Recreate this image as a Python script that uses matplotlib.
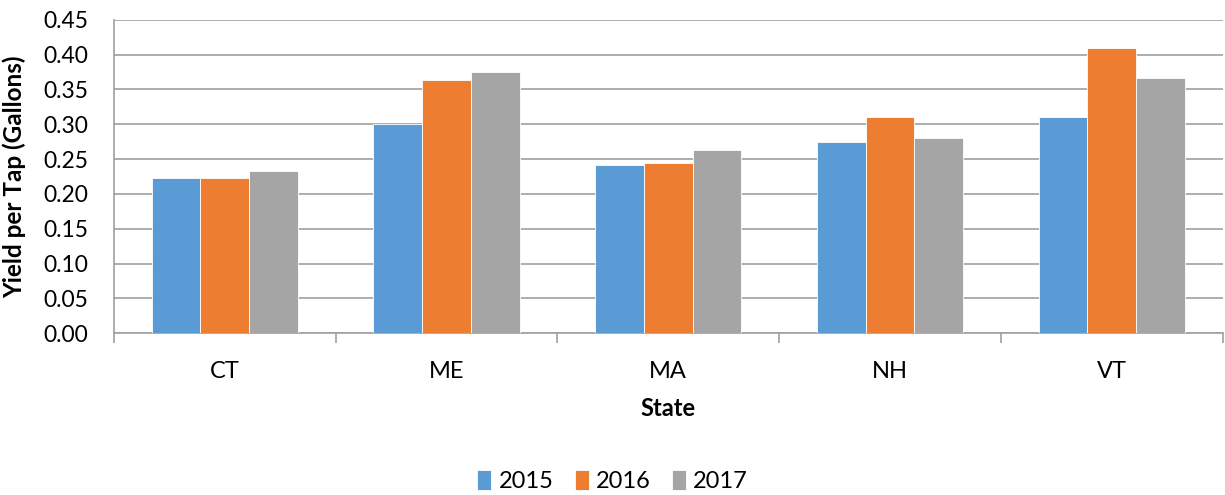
import matplotlib.pyplot as plt
import numpy as np

states = ["CT", "ME", "MA", "NH", "VT"]
years = ["2015", "2016", "2017"]
yield_2015 = [0.223, 0.300, 0.242, 0.275, 0.310]
yield_2016 = [0.223, 0.363, 0.244, 0.310, 0.410]
yield_2017 = [0.233, 0.375, 0.263, 0.280, 0.366]
colors = ["#5B9BD5", "#ED7D31", "#A5A5A5"]

plt.rcParams['font.family'] = ['Lato', 'DejaVu Sans']

fig = plt.figure(figsize=(12.25, 4.95), dpi=100)
ax = fig.add_axes([0.093, 0.327, 0.905, 0.633])

x = np.arange(len(states))
w = 0.22
for i, (vals, lab) in enumerate(zip([yield_2015, yield_2016, yield_2017], years)):
    ax.bar(x + (i - 1) * w, vals, w, color=colors[i], label=lab,
           edgecolor="white", linewidth=0.6, zorder=3)

ax.set_xlim(-0.5, len(states) - 0.5)
ax.set_ylim(0, 0.45)
ax.set_yticks(np.arange(0, 0.451, 0.05))
ax.set_yticklabels([f"{v:.2f}" for v in np.arange(0, 0.451, 0.05)], fontsize=16.5)
ax.yaxis.grid(True, color="#A0A0A0", linewidth=1.2, zorder=0)
ax.tick_params(axis="y", length=0, pad=18.5)

# category ticks sit at the group boundaries
ax.set_xticks(np.arange(-0.5, len(states), 1.0))
ax.set_xticklabels([])
ax.set_xticks(x, minor=True)
ax.set_xticklabels(states, minor=True, fontsize=17)
ax.tick_params(axis="x", which="major", length=7, color="#A0A0A0", width=1.2)
ax.tick_params(axis="x", which="minor", length=0, pad=20)

for s in ["top", "right"]:
    ax.spines[s].set_visible(False)
for s in ["left", "bottom"]:
    ax.spines[s].set_color("#A0A0A0")
    ax.spines[s].set_linewidth(1.2)

ax.set_ylabel("Yield per Tap (Gallons)", fontsize=17.5, fontweight="bold")
ax.yaxis.set_label_coords(-0.079, 0.5)
ax.set_xlabel("State", fontsize=17, fontweight="bold", labelpad=11)

fig.legend(loc="center", bbox_to_anchor=(0.5, 0.028), ncol=3, frameon=False,
           fontsize=17, handlelength=0.6, handleheight=0.9, handletextpad=0.3,
           columnspacing=0.9)

fig.savefig("out.png", dpi=100)
